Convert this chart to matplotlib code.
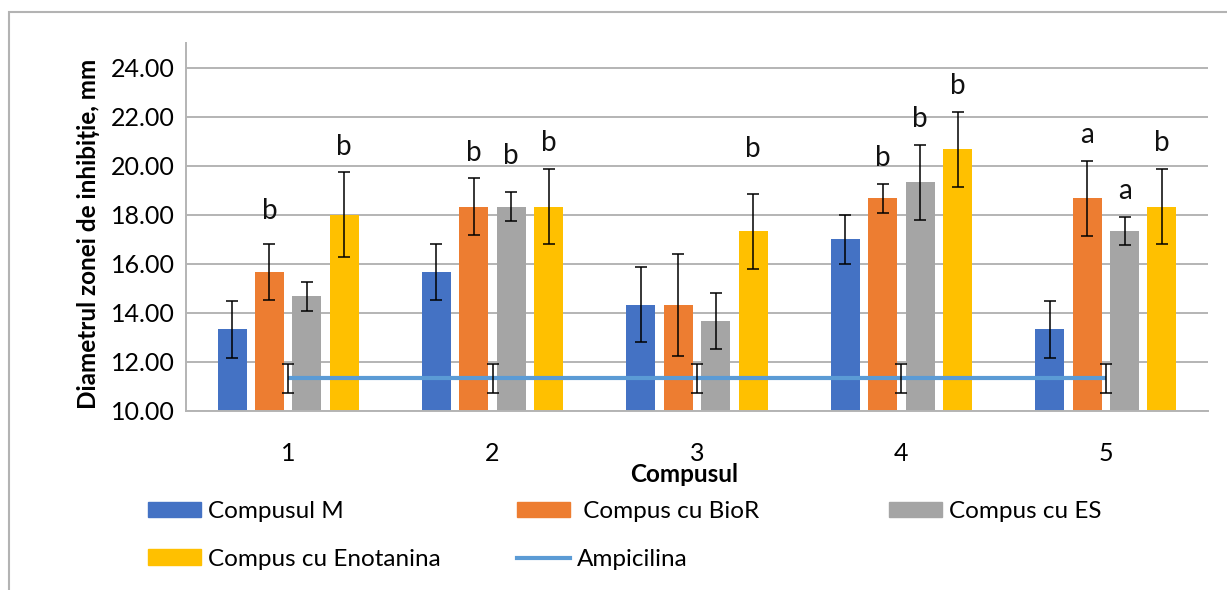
import numpy as np
import matplotlib
matplotlib.use('Agg')
import matplotlib.pyplot as plt
from matplotlib.patches import Rectangle, Patch
from matplotlib.lines import Line2D

plt.rcParams['font.family'] = ['Lato', 'DejaVu Sans']

categories = ['1', '2', '3', '4', '5']

compus_m = [13.33, 15.67, 14.33, 17.00, 13.33]
compus_m_err = [1.15, 1.15, 1.53, 1.00, 1.15]
compus_bior = [15.67, 18.33, 14.33, 18.67, 18.67]
compus_bior_err = [1.15, 1.15, 2.08, 0.58, 1.53]
compus_es = [14.67, 18.33, 13.67, 19.33, 17.33]
compus_es_err = [0.58, 0.58, 1.15, 1.53, 0.58]
compus_eno = [18.00, 18.33, 17.33, 20.67, 18.33]
compus_eno_err = [1.73, 1.53, 1.53, 1.53, 1.53]
ampicilina = [11.33, 11.33, 11.33, 11.33, 11.33]
ampicilina_err = [0.58, 0.58, 0.58, 0.58, 0.58]

letters_m = ['', '', '', '', '']
letters_bior = ['b', 'b', '', 'b', 'a']
letters_es = ['', 'b', '', 'b', 'a']
letters_eno = ['b', 'b', 'b', 'b', 'b']

series = [
    ('Compusul M', compus_m, compus_m_err, letters_m, '#4472C4'),
    (' Compus cu BioR', compus_bior, compus_bior_err, letters_bior, '#ED7D31'),
    ('Compus cu ES', compus_es, compus_es_err, letters_es, '#A5A5A5'),
    ('Compus cu Enotanina', compus_eno, compus_eno_err, letters_eno, '#FFC000'),
]

# a few letters sit a bit higher above their error bars
letter_lift = {(0, 1): 0.3, (1, 2): 0.45, (2, 3): 0.75}

W, H = 1227, 590
fig = plt.figure(figsize=(W / 100, H / 100), dpi=100)
ax = fig.add_axes([186 / W, 1 - 411 / H, (1208 - 186) / W, (411 - 43) / H])

x = np.arange(len(categories))
step = 0.183
width = 0.142
for i, (name, vals, errs, letters, color) in enumerate(series):
    pos = x + (i - 1.5) * step
    ax.bar(pos, vals, width, color=color, zorder=2)
    ax.errorbar(pos, vals, yerr=errs, fmt='none', ecolor='black',
                elinewidth=1.1, capsize=4.5, capthick=1.1, zorder=3)
    for j, lab in enumerate(letters):
        if lab:
            y = vals[j] + errs[j] + 1.05 + letter_lift.get((j, i), 0)
            ax.text(pos[j], y, lab, ha='center', va='center',
                    fontsize=20, color='#111111', zorder=4)

ax.plot(x, ampicilina, color='#5B9BD5', lw=3, zorder=4, solid_capstyle='butt')
ax.errorbar(x, ampicilina, yerr=ampicilina_err, fmt='none', ecolor='black',
            elinewidth=1.1, capsize=4.5, capthick=1.1, zorder=5)

ax.set_xlim(-0.5, len(categories) - 0.5)
ax.set_ylim(10, 25)
ax.set_yticks(np.arange(10, 25, 2))
ax.set_yticklabels([f'{v:.2f}' for v in np.arange(10, 25, 2)])
ax.set_xticks(x)
ax.set_xticklabels(categories)
ax.tick_params(axis='y', length=0, pad=8, labelsize=18)
ax.tick_params(axis='x', length=0, pad=22, labelsize=18)
ax.yaxis.grid(True, color='#b4b4b4', lw=1.4, zorder=0)
ax.set_axisbelow(True)
for side in ['top', 'right']:
    ax.spines[side].set_visible(False)
for side in ['left', 'bottom']:
    ax.spines[side].set_color('#b4b4b4')
    ax.spines[side].set_linewidth(1.4)

ax.set_ylabel('Diametrul zonei de inhibiție, mm', fontsize=17.5,
              fontweight='bold')
ax.yaxis.set_label_coords(-0.084, 0.48)
ax.set_xlabel('Compusul', fontsize=17.5, fontweight='bold')
ax.xaxis.set_label_coords((684 - 186) / 1022, -0.14)

# legend laid out as three columns
handles = [Patch(color=c) for _, _, _, _, c in series]
amp_handle = Line2D([0], [0], color='#5B9BD5', lw=3)
columns = [
    ([handles[0], handles[3]], [series[0][0], series[3][0]], 148),
    ([handles[1], amp_handle], [series[1][0], 'Ampicilina'], 517),
    ([handles[2]], [series[2][0]], 889),
]
for hs, labs, left in columns:
    fig.legend(hs, labs, loc='upper left', bbox_to_anchor=(left / W, 1 - 501 / H),
               frameon=False, fontsize=17.5, handlelength=2.2, handleheight=0.62,
               handletextpad=0.25, labelspacing=1.1, borderpad=0,
               borderaxespad=0)

# outer chart border
fig.add_artist(Rectangle((9 / W, -0.1), 1.2, 1.1 + (1 - 12 / H) - 1,
                         transform=fig.transFigure, fill=False,
                         edgecolor='#b3b3b3', lw=1.5, clip_on=False))

fig.savefig('out.png', dpi=100, facecolor='white')
